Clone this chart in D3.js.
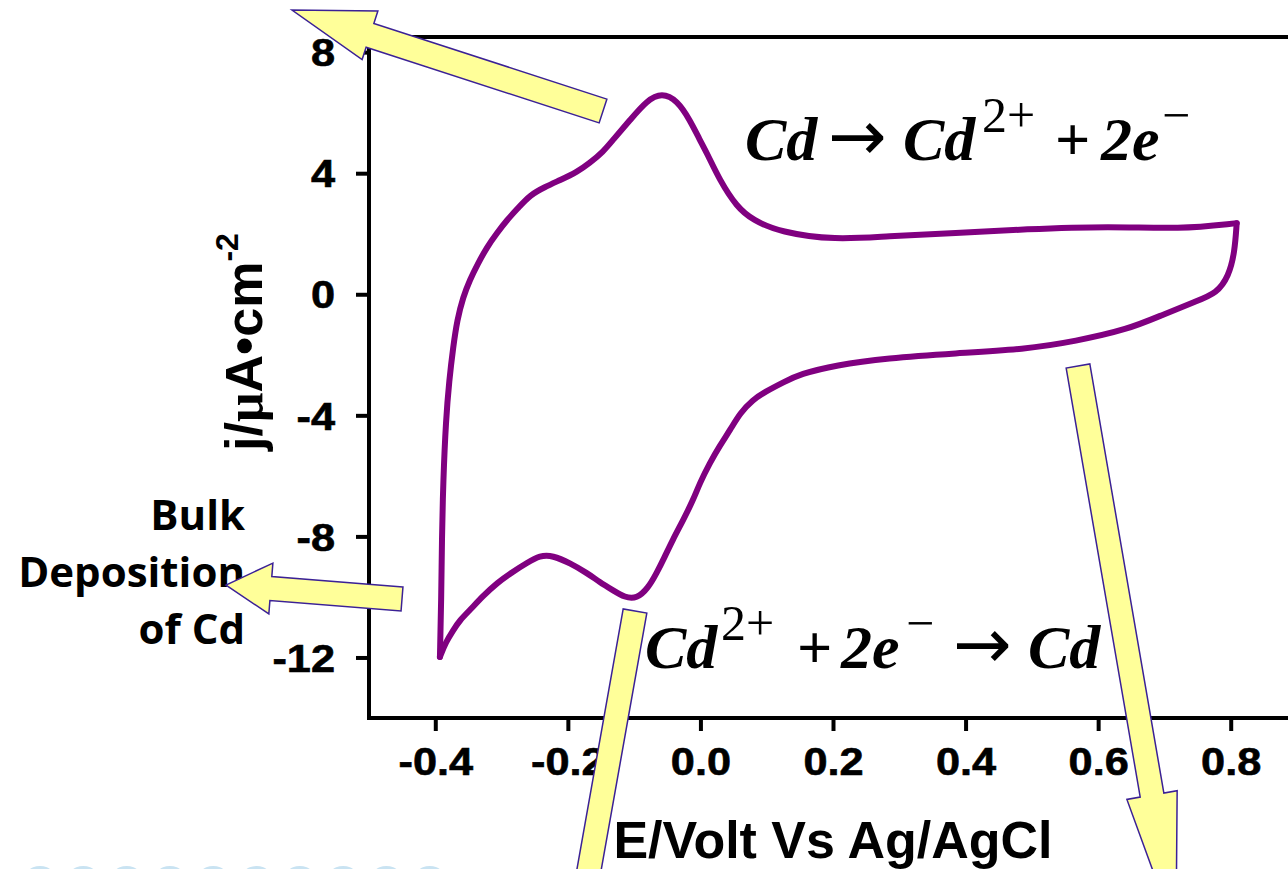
<!DOCTYPE html>
<html>
<head>
<meta charset="utf-8">
<script src="https://cdn.jsdelivr.net/npm/d3@7"></script>
<style>
  html, body { margin: 0; padding: 0; background: #fff; }
  svg { display: block; }
</style>
</head>
<body>
<svg id="chart" width="1288" height="869"></svg>
<script>
// Cyclic voltammogram of Cd
// forward (anodic) sweep, -0.39 V -> 0.81 V
const anodicE = [-0.393, -0.391, -0.390, -0.388, -0.384, -0.379, -0.373, -0.367, -0.358, -0.348,
  -0.336, -0.322, -0.307, -0.292, -0.275, -0.257, -0.235, -0.212, -0.186, -0.167,
  -0.147, -0.132, -0.106, -0.081, -0.058, -0.035, -0.016, -0.001, 0.010, 0.029,
  0.055, 0.079, 0.120, 0.204, 0.281, 0.385, 0.489, 0.619, 0.723, 0.809];
const anodicJ = [-11.98, -10.10, -8.03, -6.14, -4.16, -2.84, -1.74, -0.85, -0.09, 0.47,
  1.00, 1.56, 2.02, 2.45, 2.85, 3.28, 3.54, 3.77, 4.04, 4.34,
  4.70, 5.10, 5.76, 6.40, 6.66, 6.40, 5.76, 5.10, 4.66, 3.77,
  2.88, 2.45, 2.05, 1.79, 1.92, 2.02, 2.15, 2.25, 2.15, 2.35];
// reverse (cathodic) sweep, 0.81 V -> -0.39 V
const cathodicE = [0.809, 0.806, 0.797, 0.779, 0.749, 0.696, 0.645, 0.566, 0.489, 0.385,
  0.281, 0.204, 0.150, 0.126, 0.097, 0.079, 0.060, 0.045, 0.029, 0.014,
  -0.001, -0.011, -0.026, -0.042, -0.054, -0.066, -0.079, -0.096, -0.114, -0.132,
  -0.152, -0.171, -0.197, -0.223, -0.242, -0.262, -0.284, -0.307, -0.328, -0.348,
  -0.363, -0.373, -0.384, -0.393];
const cathodicJ = [2.35, 1.39, 0.60, 0.04, -0.22, -0.69, -1.16, -1.55, -1.82, -1.95,
  -2.11, -2.34, -2.64, -2.90, -3.23, -3.49, -3.92, -4.48, -5.01, -5.58,
  -6.24, -6.80, -7.46, -8.12, -8.68, -9.21, -9.71, -10.06, -10.02, -9.78,
  -9.51, -9.21, -8.88, -8.63, -8.63, -8.88, -9.18, -9.54, -9.97, -10.44,
  -10.77, -11.10, -11.49, -11.98];

const xTicks = [-0.4, -0.2, 0.0, 0.2, 0.4, 0.6, 0.8];
const yTicks = [8, 4, 0, -4, -8, -12];
const xDomain = [-0.5, 0.9];
const yDomain = [-14, 8.5];

const svg = d3.select('#chart');

// plot box (right edge runs off the picture)
const box = { left: 369, right: 1297, top: 37, bottom: 718 };
const x = d3.scaleLinear().domain(xDomain).range([box.left, box.right]);
const y = d3.scaleLinear().domain(yDomain).range([box.bottom, box.top]);

const tickFont = "'Liberation Sans', Arial, sans-serif";
const stretch = 1.14; // tick labels are drawn wide in the original

// frame
const frame = svg.append('g').attr('stroke', '#000').attr('stroke-width', 4).attr('stroke-linecap', 'square');
frame.append('line').attr('x1', box.left).attr('y1', box.top).attr('x2', box.right).attr('y2', box.top);
frame.append('line').attr('x1', box.left).attr('y1', box.top).attr('x2', box.left).attr('y2', box.bottom);
frame.append('line').attr('x1', box.left).attr('y1', box.bottom).attr('x2', box.right).attr('y2', box.bottom);

// x axis
const gx = svg.append('g')
  .attr('transform', `translate(0,${box.bottom})`)
  .call(d3.axisBottom(x).tickValues(xTicks).tickSize(13).tickSizeOuter(0)
    .tickFormat(d => d.toFixed(1)));
gx.select('.domain').remove();
gx.selectAll('.tick line').attr('stroke', '#000').attr('stroke-width', 4);
gx.selectAll('.tick text')
  .attr('y', 57).attr('dy', null)
  .attr('transform', `scale(${stretch},1)`)
  .attr('font-family', tickFont).attr('font-weight', 'bold')
  .attr('font-size', 38).attr('fill', '#000')
  .attr('stroke', '#000').attr('stroke-width', 0.6);

// y axis
const gy = svg.append('g')
  .attr('transform', `translate(${box.left},0)`)
  .call(d3.axisLeft(y).tickValues(yTicks).tickSize(13).tickSizeOuter(0)
    .tickFormat(d => String(d)));
gy.select('.domain').remove();
gy.selectAll('.tick line').attr('stroke', '#000').attr('stroke-width', 4);
gy.selectAll('.tick text')
  .attr('x', -34 / stretch).attr('dy', '0.36em')
  .attr('transform', `scale(${stretch},1)`)
  .attr('font-family', tickFont).attr('font-weight', 'bold')
  .attr('font-size', 38).attr('fill', '#000')
  .attr('stroke', '#000').attr('stroke-width', 0.6);

// axis titles
svg.append('text')
  .attr('x', 833).attr('y', 858)
  .attr('text-anchor', 'middle')
  .attr('font-family', tickFont).attr('font-weight', 'bold').attr('font-size', 52)
  .text('E/Volt Vs Ag/AgCl');

const yt = svg.append('text')
  .attr('transform', 'translate(262,342) rotate(-90)')
  .attr('text-anchor', 'middle')
  .attr('font-family', tickFont).attr('font-weight', 'bold').attr('font-size', 52);
yt.append('tspan').text('j/');
yt.append('tspan').attr('font-family', "'Liberation Serif', serif").text('μ');
yt.append('tspan').text('A•cm');
yt.append('tspan').attr('font-size', 32).attr('dy', -24).text('-2');

// voltammogram
const line = d3.line()
  .x(d => x(d[0]))
  .y(d => y(d[1]))
  .curve(d3.curveBasis);

const sweeps = [d3.zip(anodicE, anodicJ), d3.zip(cathodicE, cathodicJ)];
svg.append('g')
  .selectAll('path')
  .data(sweeps)
  .enter()
  .append('path')
  .attr('d', line)
  .attr('fill', 'none')
  .attr('stroke', '#800080')
  .attr('stroke-width', 6)
  .attr('stroke-linejoin', 'round')
  .attr('stroke-linecap', 'round');

// reaction equations, each piece placed at its own x
const eqFont = "'Liberation Serif', 'Times New Roman', serif";
function equation(y0, parts) {
  const t = svg.append('text')
    .attr('y', y0)
    .attr('font-family', eqFont).attr('font-weight', 'bold').attr('font-size', 62)
    .attr('fill', '#000');
  parts.forEach(p => {
    const s = t.append('tspan').attr('x', p.x).text(p.t);
    if (p.it) s.attr('font-style', 'italic');
    if (p.sup) s.attr('y', y0 - 28).attr('font-size', 50).attr('font-weight', 'normal');
    else s.attr('y', y0);
    if (p.arrow) s.attr('font-family', "'DejaVu Sans', sans-serif").attr('font-weight', 'normal').attr('font-size', 70);
  });
}
equation(160, [
  { t: 'Cd', it: true, x: 745 },
  { t: '→', arrow: true, x: 828 },
  { t: 'Cd', it: true, x: 903 },
  { t: '2+', sup: true, x: 982 },
  { t: '+', x: 1055 },
  { t: '2e', it: true, x: 1101 },
  { t: '−', sup: true, x: 1162 }
]);
equation(668, [
  { t: 'Cd', it: true, x: 645 },
  { t: '2+', sup: true, x: 721 },
  { t: '+', x: 797 },
  { t: '2e', it: true, x: 841 },
  { t: '−', sup: true, x: 906 },
  { t: '→', arrow: true, x: 953 },
  { t: 'Cd', it: true, x: 1028 }
]);

// side note
const note = svg.append('text')
  .attr('text-anchor', 'end')
  .attr('font-family', "'Open Sans', sans-serif").attr('font-weight', 'bold').attr('font-size', 42);
['Bulk', 'Deposition', 'of Cd'].forEach((s, i) => {
  note.append('tspan').attr('x', 245).attr('y', 530 + i * 57).text(s);
});

// block arrows (tail, tip, shaft width, head width, head length)
const arrows = [
  { tail: [603, 111], tip: [292, 10], sw: 25, hw: 51, hl: 82 },
  { tail: [402, 599], tip: [226, 585], sw: 24, hw: 51, hl: 45 },
  { tail: [635, 611], tip: [565, 1005], sw: 24, hw: 51, hl: 100 },
  { tail: [1078, 366], tip: [1176, 934], sw: 24, hw: 51, hl: 141 }
];
function arrowPoints(a) {
  const dx = a.tip[0] - a.tail[0], dy = a.tip[1] - a.tail[1];
  const len = Math.hypot(dx, dy), ux = dx / len, uy = dy / len;
  const px = -uy, py = ux;
  const nx = a.tip[0] - ux * a.hl, ny = a.tip[1] - uy * a.hl;
  const pt = (bx, by, w) => [bx + px * w, by + py * w];
  return [
    pt(a.tail[0], a.tail[1], a.sw / 2),
    pt(nx, ny, a.sw / 2),
    pt(nx, ny, a.hw / 2),
    a.tip,
    pt(nx, ny, -a.hw / 2),
    pt(nx, ny, -a.sw / 2),
    pt(a.tail[0], a.tail[1], -a.sw / 2)
  ];
}
svg.append('g')
  .selectAll('polygon')
  .data(arrows)
  .enter()
  .append('polygon')
  .attr('points', d => arrowPoints(d).map(p => p.join(',')).join(' '))
  .attr('fill', '#ffff99')
  .attr('stroke', '#3b2196')
  .attr('stroke-width', 1.5)
  .attr('stroke-linejoin', 'miter');

// faint slide decoration along the bottom edge
svg.append('g')
  .selectAll('circle')
  .data(d3.range(10))
  .enter()
  .append('circle')
  .attr('cx', i => 40 + i * 43.3)
  .attr('cy', 884)
  .attr('r', 18)
  .attr('fill', '#c9e3f2');
</script>
</body>
</html>
